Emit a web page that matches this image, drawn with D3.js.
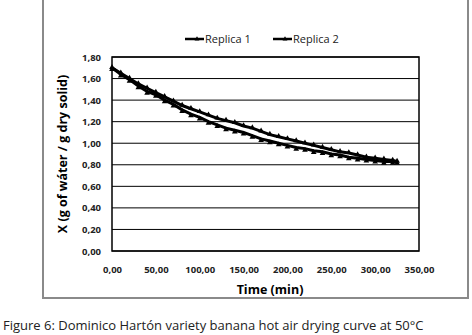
<!DOCTYPE html>
<html>
<head>
<meta charset="utf-8">
<script src="https://cdn.jsdelivr.net/npm/d3@7"></script>
<style>
  body { margin: 0; background: #fff; }
  text { font-family: "Open Sans", "Noto Sans", sans-serif; }
</style>
</head>
<body>
<div id="chart"></div>
<script>
// Time (min) and moisture content for each replica
const times = [0, 10, 20, 30, 40, 50, 60, 70, 80, 90, 100, 110, 120, 130, 140, 150, 160,
    170, 180, 190, 200, 210, 220, 230, 240, 250, 260, 270, 280, 290, 300, 310, 320, 325];
const replica1 = [1.70, 1.65, 1.60, 1.55, 1.51, 1.47, 1.43, 1.39, 1.35, 1.32, 1.29, 1.26, 1.23,
    1.21, 1.19, 1.16, 1.14, 1.11, 1.08, 1.06, 1.04, 1.02, 1.00, 0.98, 0.96, 0.94, 0.92, 0.91,
    0.89, 0.87, 0.86, 0.85, 0.84, 0.83];
const replica2 = [1.70, 1.64, 1.59, 1.53, 1.48, 1.45, 1.40, 1.36, 1.31, 1.27, 1.24, 1.20, 1.17,
    1.14, 1.12, 1.10, 1.07, 1.04, 1.02, 1.00, 0.98, 0.96, 0.95, 0.93, 0.92, 0.90, 0.89, 0.87,
    0.86, 0.85, 0.84, 0.83, 0.83, 0.83];
const seriesNames = ['Replica 1', 'Replica 2'];
const xTicks = [0, 50, 100, 150, 200, 250, 300, 350];
const yTicks = [0, 0.2, 0.4, 0.6, 0.8, 1.0, 1.2, 1.4, 1.6, 1.8];

const W = 472, H = 335;
const plot = { left: 112, right: 419, top: 57, bottom: 251 };

const svg = d3.select('#chart').append('svg')
    .attr('width', W)
    .attr('height', H);

// Outer chart frame (gray)
svg.append('rect')
    .attr('x', 43).attr('y', -5)
    .attr('width', 425).attr('height', 303)
    .attr('fill', 'none')
    .attr('stroke', '#8a8a8a')
    .attr('stroke-width', 2);

const xScale = d3.scaleLinear().domain([0, 350]).range([plot.left, plot.right]);
const yScale = d3.scaleLinear().domain([0, 1.8]).range([plot.bottom, plot.top]);
const fmt = v => d3.format('.2f')(v).replace('.', ',');

// Horizontal gridlines
svg.append('g')
    .selectAll('line')
    .data(yTicks)
    .enter().append('line')
    .attr('x1', plot.left).attr('x2', plot.right)
    .attr('y1', d => yScale(d)).attr('y2', d => yScale(d))
    .attr('stroke', '#000')
    .attr('stroke-width', 1);

// Plot border
svg.append('rect')
    .attr('x', plot.left).attr('y', plot.top)
    .attr('width', plot.right - plot.left)
    .attr('height', plot.bottom - plot.top)
    .attr('fill', 'none')
    .attr('stroke', '#000')
    .attr('stroke-width', 1.5);

// Y axis labels
const yAxis = d3.axisLeft(yScale).tickValues(yTicks).tickFormat(fmt).tickSize(0).tickPadding(11);
svg.append('g')
    .attr('transform', `translate(${plot.left}, 0)`)
    .call(yAxis)
    .call(g => g.select('.domain').remove())
    .selectAll('text')
    .style('font-size', '9.5px')
    .style('font-weight', 'bold')
    .attr('fill', '#222');

// X axis labels
const xAxis = d3.axisBottom(xScale).tickValues(xTicks).tickFormat(fmt).tickSize(0).tickPadding(15);
svg.append('g')
    .attr('transform', `translate(0, ${plot.bottom})`)
    .call(xAxis)
    .call(g => g.select('.domain').remove())
    .selectAll('text')
    .style('font-size', '9.5px')
    .style('font-weight', 'bold')
    .attr('fill', '#222');

// Axis titles
svg.append('text')
    .attr('x', 270).attr('y', 294)
    .attr('text-anchor', 'middle')
    .style('font-size', '12.5px')
    .style('font-weight', 'bold')
    .text('Time (min)');

svg.append('text')
    .attr('transform', `translate(67, ${(plot.top + plot.bottom) / 2}) rotate(-90)`)
    .attr('text-anchor', 'middle')
    .style('font-size', '12.5px')
    .style('font-weight', 'bold')
    .text('X (g of wáter / g dry solid)');

// Curves
const series = [replica1, replica2];
const line = d3.line()
    .x((d, i) => xScale(times[i]))
    .y(d => yScale(d));

series.forEach((vals, k) => {
    svg.append('path')
        .datum(vals)
        .attr('d', line)
        .attr('fill', 'none')
        .attr('stroke', '#000')
        .attr('stroke-width', 3);

    // small triangle markers
    svg.append('g')
        .selectAll('path')
        .data(vals)
        .enter().append('path')
        .attr('d', d3.symbol().type(d3.symbolTriangle).size(14))
        .attr('transform', (d, i) => `translate(${xScale(times[i])}, ${yScale(d) + (k === 1 ? 1.5 : -0.5)})`)
        .attr('fill', '#000');
});

// Legend
const legend = svg.append('g').attr('transform', 'translate(185, 39)');
seriesNames.forEach((name, i) => {
    const g = legend.append('g').attr('transform', `translate(${i * 88}, 0)`);
    g.append('line')
        .attr('x1', 0).attr('x2', 19)
        .attr('y1', 0).attr('y2', 0)
        .attr('stroke', '#000')
        .attr('stroke-width', 2.5);
    g.append('path')
        .attr('d', d3.symbol().type(d3.symbolTriangle).size(10))
        .attr('transform', 'translate(12, 0)')
        .attr('fill', '#000');
    g.append('text')
        .attr('x', 20).attr('y', 4)
        .style('font-size', '11px')
        .attr('fill', '#222')
        .text(name);
});

// Caption
svg.append('text')
    .attr('x', 3).attr('y', 330)
    .style('font-size', '13px')
    .attr('fill', '#222')
    .text('Figure 6: Dominico Hartón variety banana hot air drying curve at 50°C');
</script>
</body>
</html>
